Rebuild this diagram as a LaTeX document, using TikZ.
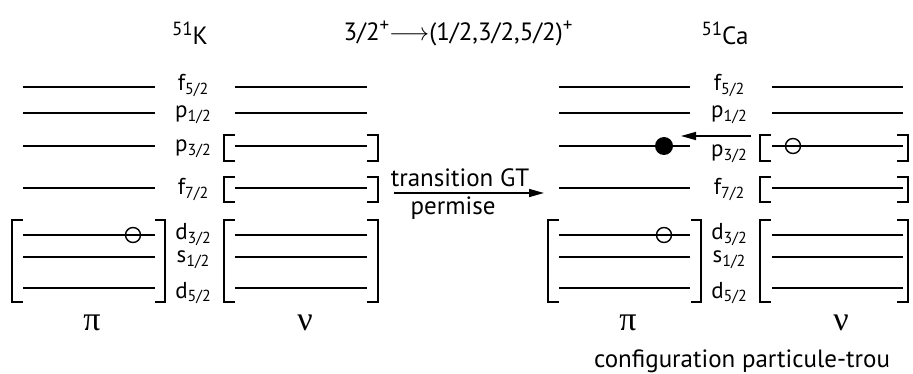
\documentclass[tikz,border=0pt]{standalone}
\usepackage{fontspec}
\setmainfont{PT Sans}
\newfontfamily\greekfont{Liberation Serif}
\usetikzlibrary{arrows.meta}
\tikzset{
  lev/.style={line width=1.5pt},
  brk/.style={line width=1.5pt},
  lab/.style={anchor=base,font=\fontsize{23}{25}\selectfont,inner sep=0pt},
  ttl/.style={font=\fontsize{25}{28}\selectfont,inner sep=0pt},
  greek/.style={font=\greekfont\fontsize{34}{36}\selectfont,inner sep=0pt},
  hole/.style={circle,draw,line width=1.4pt,minimum size=15pt,inner sep=0pt},
  part/.style={circle,fill=black,minimum size=18pt,inner sep=0pt},
  arr/.style={line width=1.5pt,-{Triangle[length=15pt,width=8pt]}}
}
\newcommand{\lsub}[1]{\raisebox{-4pt}{\fontsize{16}{18}\selectfont #1}}
\newcommand{\tsup}[1]{\raisebox{9pt}{\fontsize{19}{20}\selectfont #1}}
\begin{document}
\begin{tikzpicture}[x=1pt,y=-1pt]
\useasboundingbox (0,0) rectangle (913,374);
% ---------- Left panel (51K) ----------
\node[ttl] (tK) at (190,33) {\tsup{51}K};
\foreach \n/\y in {a/87,b/113,c/146,d/188,e/235,f/257,g/288}{
  \coordinate (LpL\n) at (23,\y); \coordinate (LpR\n) at (155,\y);
  \coordinate (LnL\n) at (235,\y); \coordinate (LnR\n) at (367,\y);
  \draw[lev] (LpL\n) -- (LpR\n);
  \draw[lev] (LnL\n) -- (LnR\n);
}
\node[lab] (l1) at (193,91) {f\lsub{5/2}};
\node[lab] (l2) at (193,118) {p\lsub{1/2}};
\node[lab] (l3) at (193,152) {p\lsub{3/2}};
\node[lab] (l4) at (193,195) {f\lsub{7/2}};
\node[lab] (l5) at (193,240) {d\lsub{3/2}};
\node[lab] (l6) at (193,262) {s\lsub{1/2}};
\node[lab] (l7) at (193,298) {d\lsub{5/2}};
% brackets left
\draw[brk] (235,135) -- (224,135) -- (224,161) -- (235,161);
\draw[brk] (367,135) -- (378,135) -- (378,161) -- (367,161);
\draw[brk] (235,177) -- (224,177) -- (224,202) -- (235,202);
\draw[brk] (367,177) -- (378,177) -- (378,202) -- (367,202);
\draw[brk] (23,220) -- (12,220) -- (12,302) -- (23,302);
\draw[brk] (155,220) -- (165,220) -- (165,302) -- (155,302);
\draw[brk] (235,220) -- (224,220) -- (224,302) -- (235,302);
\draw[brk] (367,220) -- (378,220) -- (378,302) -- (367,302);
\node[hole] (h1) at (133,235) {};
\node[greek] (piL) at (92,323) {π};
\node[greek] (nuL) at (305,323) {ν};
% ---------- Middle ----------
\node[ttl] (form) at (458,33) {3/2\tsup{+}$\longrightarrow$(1/2,3/2,5/2)\tsup{+}};
\coordinate (ma) at (394,193);
\coordinate (mb) at (544,193);
\draw[arr] (ma) -- (mb);
\node[ttl] (tr) at (460,178) {transition GT};
\node[ttl] (pm) at (453,208) {permise};
% ---------- Right panel (51Ca) ----------
\node[ttl] (tCa) at (725,33) {\tsup{51}Ca};
\foreach \n/\y in {a/87,b/113,c/146,d/188,e/235,f/257,g/288}{
  \coordinate (RpL\n) at (559,\y); \coordinate (RpR\n) at (690,\y);
  \coordinate (RnL\n) at (772,\y); \coordinate (RnR\n) at (903,\y);
  \draw[lev] (RpL\n) -- (RpR\n);
  \draw[lev] (RnL\n) -- (RnR\n);
}
\node[lab] (r1) at (729,91) {f\lsub{5/2}};
\node[lab] (r2) at (729,118) {p\lsub{1/2}};
\node[lab] (r3) at (729,157) {p\lsub{3/2}};
\node[lab] (r4) at (729,195) {f\lsub{7/2}};
\node[lab] (r5) at (729,240) {d\lsub{3/2}};
\node[lab] (r6) at (729,262) {s\lsub{1/2}};
\node[lab] (r7) at (729,298) {d\lsub{5/2}};
\draw[brk] (771,135) -- (760,135) -- (760,161) -- (771,161);
\draw[brk] (897,135) -- (908,135) -- (908,161) -- (897,161);
\draw[brk] (771,177) -- (760,177) -- (760,202) -- (771,202);
\draw[brk] (897,177) -- (908,177) -- (908,202) -- (897,202);
\draw[brk] (559,220) -- (548,220) -- (548,302) -- (559,302);
\draw[brk] (691,220) -- (701,220) -- (701,302) -- (691,302);
\draw[brk] (771,220) -- (760,220) -- (760,302) -- (771,302);
\draw[brk] (897,220) -- (908,220) -- (908,302) -- (897,302);
\node[part] (pf) at (664,146) {};
\node[hole] (h2) at (793,146) {};
\node[hole] (h3) at (664,235) {};
\coordinate (ua) at (751,136);
\coordinate (ub) at (681,136);
\draw[arr] (ua) -- (ub);
\node[greek] (piR) at (628,323) {π};
\node[greek] (nuR) at (841,323) {ν};
\node[ttl] (conf) at (742,361) {configuration particule-trou};
\end{tikzpicture}
\end{document}
